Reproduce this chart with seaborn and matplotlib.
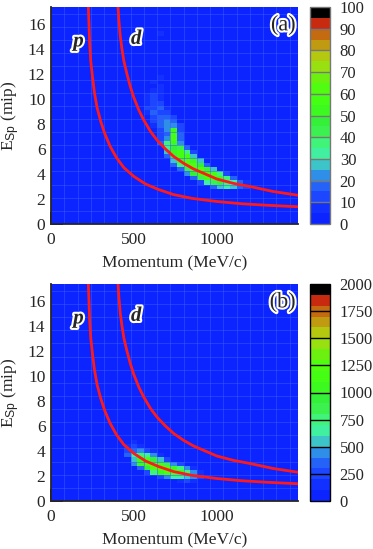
import numpy as np
import matplotlib
matplotlib.use("Agg")
import matplotlib.pyplot as plt
import matplotlib.patheffects as pe
from matplotlib.colors import ListedColormap
import seaborn as sns

# -----------------------------
# Data
# -----------------------------

# panel (a): filled cells -> momentum bin centre, E_Sp bin centre, counts
a_mom = [
    980, 1020, 1060, 1100, 1140, 1180,
    900, 940, 980, 1020, 1060, 1100, 1140, 1180,
    860, 900, 940, 980, 1020, 1060, 1100,
    820, 860, 900, 940, 980, 1020, 1060,
    780, 820, 860, 900, 940, 980,
    740, 780, 820, 860, 900, 940,
    740, 780, 820, 860, 900,
    700, 740, 780, 820, 860,
    700, 740, 780, 820, 860,
    700, 740, 780, 820,
    660, 700, 740, 780,
    660, 700, 740, 780,
    660, 700, 740, 780,
    660, 700, 740, 780,
    620, 660, 700, 740, 780,
    620, 660, 700, 740,
    620, 660, 700, 740,
    580, 620, 660, 700,
    580, 620, 660, 700,
    580, 620, 660,
    580, 620, 660,
    580, 620, 660,
    620, 660,
    580, 660,
    620, 660,
    580, 660,
    620, 700,
    580, 660, 820,
    620, 580, 660, 580, 500,
]
a_esp = [
    2.975, 2.975, 2.975, 2.975, 2.975, 2.975,
    3.325, 3.325, 3.325, 3.325, 3.325, 3.325, 3.325, 3.325,
    3.675, 3.675, 3.675, 3.675, 3.675, 3.675, 3.675,
    4.025, 4.025, 4.025, 4.025, 4.025, 4.025, 4.025,
    4.375, 4.375, 4.375, 4.375, 4.375, 4.375,
    4.725, 4.725, 4.725, 4.725, 4.725, 4.725,
    5.075, 5.075, 5.075, 5.075, 5.075,
    5.425, 5.425, 5.425, 5.425, 5.425,
    5.775, 5.775, 5.775, 5.775, 5.775,
    6.125, 6.125, 6.125, 6.125,
    6.475, 6.475, 6.475, 6.475,
    6.825, 6.825, 6.825, 6.825,
    7.175, 7.175, 7.175, 7.175,
    7.525, 7.525, 7.525, 7.525,
    7.875, 7.875, 7.875, 7.875, 7.875,
    8.225, 8.225, 8.225, 8.225,
    8.575, 8.575, 8.575, 8.575,
    8.925, 8.925, 8.925, 8.925,
    9.275, 9.275, 9.275, 9.275,
    9.625, 9.625, 9.625,
    9.975, 9.975, 9.975,
    10.325, 10.325, 10.325,
    10.675, 10.675,
    11.025, 11.025,
    11.375, 11.375,
    11.725, 11.725,
    12.075, 12.075,
    12.775, 12.775, 12.775,
    13.475, 14.175, 15.225, 15.925, 1.925,
]
a_cnt = [
    18, 28, 30, 25, 15, 10,
    14, 32, 42, 45, 38, 30, 16, 8,
    15, 42, 55, 58, 50, 35, 15,
    20, 45, 58, 62, 55, 35, 12,
    15, 42, 58, 62, 50, 25,
    15, 35, 58, 62, 45, 18,
    25, 50, 62, 50, 25,
    15, 42, 58, 55, 28,
    25, 50, 55, 35, 12,
    32, 45, 40, 18,
    15, 35, 50, 22,
    12, 22, 55, 18,
    10, 18, 58, 15,
    10, 20, 50, 12,
    8, 15, 22, 20, 10,
    10, 18, 20, 18,
    12, 18, 15, 10,
    8, 15, 12, 10,
    10, 12, 18, 8,
    8, 14, 10,
    6, 10, 6,
    5, 12, 5,
    6, 8,
    4, 5,
    5, 4,
    3, 6,
    4, 3,
    3, 4, 3,
    3, 3, 6, 3, 4,
]

# panel (b)
b_mom = [
    780, 820, 860, 900,
    660, 700, 740, 780, 820, 860, 900,
    580, 620, 660, 700, 740, 780, 820, 860, 900,
    540, 580, 620, 660, 700, 740, 780, 820, 860,
    500, 540, 580, 620, 660, 700, 740, 780,
    500, 540, 580, 620, 660, 700,
    460, 500, 540, 580, 620, 660,
    460, 500, 540, 580, 620,
    460, 500, 540, 580,
    460, 500, 540,
    460, 500, 540,
    500,
]
b_esp = [
    1.575, 1.575, 1.575, 1.575,
    1.925, 1.925, 1.925, 1.925, 1.925, 1.925, 1.925,
    2.275, 2.275, 2.275, 2.275, 2.275, 2.275, 2.275, 2.275, 2.275,
    2.625, 2.625, 2.625, 2.625, 2.625, 2.625, 2.625, 2.625, 2.625,
    2.975, 2.975, 2.975, 2.975, 2.975, 2.975, 2.975, 2.975,
    3.325, 3.325, 3.325, 3.325, 3.325, 3.325,
    3.675, 3.675, 3.675, 3.675, 3.675, 3.675,
    4.025, 4.025, 4.025, 4.025, 4.025,
    4.375, 4.375, 4.375, 4.375,
    4.725, 4.725, 4.725,
    5.075, 5.075, 5.075,
    5.425,
]
b_cnt = [
    150, 220, 180, 90,
    250, 450, 600, 650, 550, 400, 200,
    250, 750, 1050, 1200, 1200, 1050, 750, 450, 150,
    350, 950, 1250, 1300, 1250, 1050, 750, 400, 150,
    400, 1000, 1250, 1250, 1100, 800, 450, 200,
    500, 1000, 1100, 900, 550, 250,
    300, 600, 750, 650, 400, 150,
    250, 350, 450, 250, 100,
    150, 220, 180, 80,
    80, 120, 80,
    40, 70, 40,
    30,
]

# proton / deuteron bands
p_mom = [225, 229, 233, 240, 250, 262, 278, 300, 325, 357, 395, 440, 500,
         570, 650, 740, 850, 1000, 1150, 1300, 1490]
p_esp = [17.4, 16.0, 14.5, 13.0, 11.8, 10.5, 9.3, 8.2, 7.2, 6.2, 5.3, 4.5, 3.8,
         3.2, 2.75, 2.35, 2.05, 1.8, 1.62, 1.5, 1.38]
d_mom = [404, 410, 418, 428, 440, 458, 478, 500, 530, 560, 600, 640, 690,
         740, 800, 860, 930, 1000, 1100, 1200, 1340, 1490]
d_esp = [17.4, 16.2, 15.0, 14.0, 13.0, 12.0, 11.0, 10.1, 9.1, 8.3, 7.4, 6.7, 6.0,
         5.4, 4.85, 4.4, 4.0, 3.6, 3.25, 3.0, 2.6, 2.3]

a_levels = [0, 10, 20, 30, 40, 50, 60, 70, 80, 90, 100]
b_levels = [0, 250, 500, 750, 1000, 1250, 1500, 1750, 2000]

palette = ["#0c24ff", "#1230ff", "#1c46ff", "#2462f8", "#2e8ee8", "#3cc4c8",
           "#40f0a0", "#40f47a", "#3cf050", "#34f038", "#3cfa20", "#44ff14",
           "#50fc10", "#6cf010", "#98e010", "#b4c810", "#c09a10", "#c46a10",
           "#c82a10", "#000000"]

# -----------------------------
# Setup
# -----------------------------

sns.set_style("ticks")
plt.rcParams["font.family"] = ["Liberation Serif", "DejaVu Serif"]
plt.rcParams["mathtext.fontset"] = "custom"
plt.rcParams["mathtext.rm"] = "Liberation Serif"
plt.rcParams["mathtext.sf"] = "Liberation Sans"
plt.rcParams["mathtext.it"] = "Liberation Serif:italic"

cmap = ListedColormap(palette)
x_edges = np.arange(0, 1521, 40)
y_edges = np.arange(0, 17.51, 0.35)

fig = plt.figure(figsize=(3.73, 5.49), dpi=100)
W, H = 373, 549


def box(l, t, r, b):
    return [l / W, 1 - b / H, (r - l) / W, (b - t) / H]


panels = [
    (a_mom, a_esp, a_cnt, a_levels, "(a)", box(51, 7, 298, 224), box(310, 7, 330, 224), "#777777"),
    (b_mom, b_esp, b_cnt, b_levels, "(b)", box(51, 284, 298, 501), box(310, 284, 330, 501), "black"),
]

stroke = [pe.withStroke(linewidth=3, foreground="white")]

for mom, esp, cnt, levels, tag, rect, crect, divcol in panels:
    ax = fig.add_axes(rect)
    cax = fig.add_axes(crect)

    sns.histplot(x=mom, y=esp, weights=cnt, bins=[x_edges, y_edges], thresh=None,
                 cmap=cmap, vmin=levels[0], vmax=levels[-1], ax=ax,
                 cbar=True, cbar_ax=cax)

    # faint lattice seen on the original rendering
    ax.vlines(np.arange(80, 1490, 80), 0, 17.5, color="#3a5cff", lw=0.7, alpha=0.5, zorder=1.5)
    ax.hlines(np.arange(1.05, 17.4, 1.05), 0, 1500, color="#3a5cff", lw=0.7, alpha=0.5, zorder=1.5)

    ax.plot(p_mom, p_esp, color="#ff1a1a", lw=2.0, zorder=3)
    ax.plot(d_mom, d_esp, color="#ff1a1a", lw=2.0, zorder=3)

    ax.text(166, 14.6, "p", fontsize=15, fontweight="bold", style="italic",
            ha="center", va="center", path_effects=stroke, zorder=4)
    ax.text(514, 14.8, "d", fontsize=15, fontweight="bold", style="italic",
            ha="center", va="center", path_effects=stroke, zorder=4)
    ax.text(1476, 15.85, tag, fontsize=16, ha="right", va="center",
            path_effects=stroke, zorder=4)

    ax.set_xlim(0, 1490)
    ax.set_ylim(0, 17.35)
    ax.set_xticks([0, 500, 1000])
    ax.set_xticks([250, 750, 1250], minor=True)
    ax.set_yticks(np.arange(0, 17, 2))
    ax.set_yticks(np.arange(0, 17.3, 0.4), minor=True)
    ax.tick_params(which="major", direction="in", length=8.5, width=1.3,
                   labelsize=12.5, color="black", pad=4)
    ax.tick_params(which="minor", direction="in", length=4.5, width=1.1, color="black")
    ax.tick_params(axis="x", pad=6)
    for s in ["top", "right"]:
        ax.spines[s].set_visible(False)
    for s in ["left", "bottom"]:
        ax.spines[s].set_linewidth(1.3)
        ax.spines[s].set_zorder(5)
    ax.set_xlabel("Momentum (MeV/c)", fontsize=12.5, labelpad=5)
    ax.set_ylabel(r"E$_{\mathsf{Sp}}$ (mip)", fontsize=12.5, labelpad=4)

    cax.set_yticks(levels)
    cax.tick_params(length=0, labelsize=12, pad=7)
    for lv in levels[1:-1]:
        cax.axhline(lv, color=divcol, lw=1.0)
    cax.spines["outline"].set_edgecolor(divcol)
    cax.spines["outline"].set_linewidth(1.0)

fig.savefig("out.png", dpi=100)
